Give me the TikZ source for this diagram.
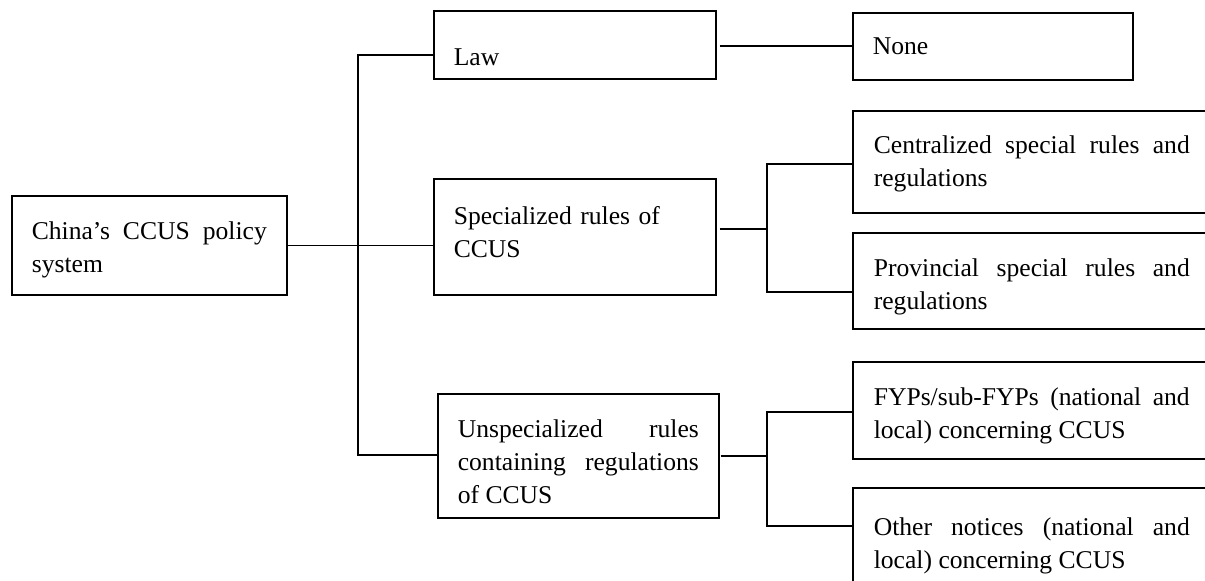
\documentclass[tikz,border=0pt]{standalone}
\usepackage{fontspec}
\setmainfont{Liberation Serif}
% zero-width struts that set the first line's height / last line's depth
\newcommand\firststrut[1]{\rule{0pt}{#1}}
\newcommand\laststrut[1]{\rule[-#1]{0pt}{#1}}
\begin{document}
\begin{tikzpicture}[x=0.5pt,y=-0.5pt,
  box/.style={draw, line width=0.8pt, anchor=north west, inner sep=0pt,
    font=\fontsize{12.8}{16.5}\selectfont, align=justify},
  wire/.style={line width=0.8pt},
  gap/.style={shorten <=1.5pt}]
\useasboundingbox (0,0) rectangle (1205,580);
\clip (0,0) rectangle (1205,580);

% first level
\node[box, minimum width=137.5pt, minimum height=49.5pt, text width=117.5pt]
  (root) at (11,195) {\firststrut{13.7pt}China’s CCUS policy\linebreak system};

% second level
\node[box, align=left, minimum width=141pt, minimum height=34pt, text width=121pt,
  text height=21pt, text depth=0pt] (law) at (433,10) {Law};
\node[box, align=left, minimum width=141pt, minimum height=58pt, text width=121pt]
  (spec) at (433,178) {Specialized rules of\\CCUS\laststrut{5.2pt}};
\node[box, minimum width=140.5pt, minimum height=62pt, text width=120.5pt]
  (unspec) at (437,393) {\firststrut{15.2pt}Unspecialized rules\linebreak containing regulations\linebreak of CCUS};

% third level
\node[box, align=left, minimum width=140pt, minimum height=33.5pt, text width=120pt]
  (none) at (852,12) {None};
\node[box, minimum width=179pt, minimum height=51pt, text width=158pt]
  (central) at (852,110) {\firststrut{11.2pt}Centralized special rules and\linebreak regulations};
\node[box, minimum width=179pt, minimum height=48pt, text width=158pt]
  (prov) at (852,232) {\firststrut{14.7pt}Provincial special rules and\linebreak regulations};
\node[box, minimum width=179pt, minimum height=48.5pt, text width=158pt]
  (fyp) at (852,361) {\firststrut{14.7pt}FYPs/sub-FYPs (national and\linebreak local) concerning CCUS};
\node[box, minimum width=179pt, minimum height=56.5pt, text width=158pt]
  (other) at (852,487) {\firststrut{10.7pt}Other notices (national and\linebreak local) concerning CCUS};

% bus joints
\coordinate (b1top) at (358,55);
\coordinate (b1bot) at (358,455);
\coordinate (lawrow) at (0,46);
\coordinate (specrow) at (0,229);
\coordinate (b2top) at (767,164);
\coordinate (b2bot) at (767,292);
\coordinate (b3top) at (767,412);
\coordinate (b3bot) at (767,526);

% root to second level
\draw[wire] (root.east) -- (root.east -| spec.west);
\draw[wire] (law.west |- b1top) -- (b1top) -- (b1bot) -- (b1bot -| unspec.west);

% law to none
\draw[wire, gap] (law.east |- lawrow) -- (none.west |- lawrow);

% specialized rules
\draw[wire, gap] (spec.east |- specrow) -- (b2top |- specrow);
\draw[wire] (central.west |- b2top) -- (b2top) -- (b2bot) -- (b2bot -| prov.west);

% unspecialized rules
\draw[wire, shorten <=0.5pt] (unspec.east) -- (unspec.east -| b3top);
\draw[wire] (fyp.west |- b3top) -- (b3top) -- (b3bot) -- (b3bot -| other.west);
\end{tikzpicture}
\end{document}
